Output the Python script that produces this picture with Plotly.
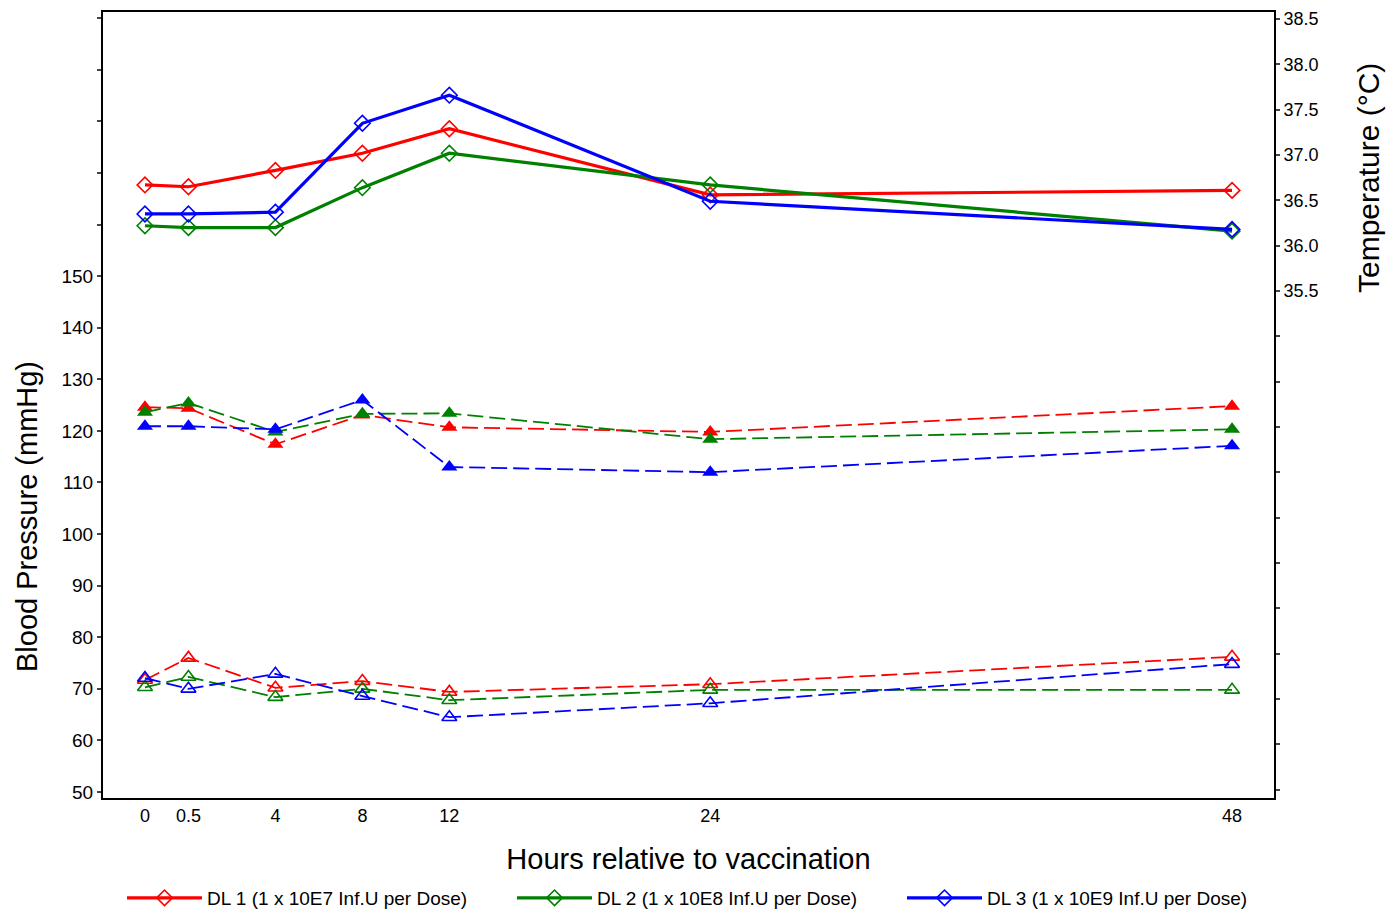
import plotly.graph_objects as go

# Data
hour_labels = ["0", "0.5", "4", "8", "12", "24", "48"]
x_pos = [-2, 0, 4, 8, 12, 24, 48]  # plotted positions of the time points

series_names = ["DL 1 (1 x 10E7 Inf.U per Dose)",
                "DL 2 (1 x 10E8 Inf.U per Dose)",
                "DL 3 (1 x 10E9 Inf.U per Dose)"]
colors = ["#ff0000", "#008000", "#0000ff"]

temp_dl1 = [36.67, 36.65, 36.83, 37.02, 37.29, 36.56, 36.61]
temp_dl2 = [36.22, 36.20, 36.20, 36.64, 37.02, 36.67, 36.16]
temp_dl3 = [36.35, 36.35, 36.37, 37.35, 37.66, 36.49, 36.18]

sys_dl1 = [124.6, 124.4, 117.4, 123.1, 120.7, 119.8, 124.8]
sys_dl2 = [123.6, 125.4, 119.8, 123.3, 123.4, 118.4, 120.3]
sys_dl3 = [120.9, 120.9, 120.3, 126.0, 113.0, 112.0, 117.1]

dia_dl1 = [71.7, 76.0, 70.2, 71.5, 69.4, 70.9, 76.2]
dia_dl2 = [70.3, 72.3, 68.4, 70.0, 67.8, 69.8, 69.8]
dia_dl3 = [72.1, 70.0, 72.9, 68.6, 64.5, 67.2, 74.8]

temps = [temp_dl1, temp_dl2, temp_dl3]
syss = [sys_dl1, sys_dl2, sys_dl3]
dias = [dia_dl1, dia_dl2, dia_dl3]

bp_ticks = list(range(50, 201, 10))
bp_labels = [str(v) if v <= 150 else "" for v in bp_ticks]
t_ticks = [30.0 + 0.5 * i for i in range(18)]
t_labels = [f"{v:.1f}" if v >= 35.5 else "" for v in t_ticks]

FONT = "Liberation Sans, Arial, sans-serif"
W, H = 1387, 903  # page body adds an 8px margin

fig = go.Figure()

for i in range(3):
    fig.add_trace(go.Scatter(
        x=x_pos, y=dias[i], mode="lines+markers", showlegend=False,
        line=dict(color=colors[i], width=1.8, dash="16px,6px"),
        marker=dict(symbol="triangle-up-open", size=13, color=colors[i],
                    line=dict(width=1.6, color=colors[i])),
        yaxis="y"))
for i in range(3):
    fig.add_trace(go.Scatter(
        x=x_pos, y=syss[i], mode="lines+markers", showlegend=False,
        line=dict(color=colors[i], width=1.8, dash="16px,6px"),
        marker=dict(symbol="triangle-up", size=14, color=colors[i]),
        yaxis="y"))
for i in range(3):
    fig.add_trace(go.Scatter(
        x=x_pos, y=temps[i], mode="lines+markers", name=series_names[i],
        line=dict(color=colors[i], width=3.2),
        marker=dict(symbol="diamond-open", size=12, color=colors[i],
                    line=dict(width=1.6, color=colors[i])),
        yaxis="y2"))

fig.update_layout(
    width=W, height=H,
    margin=dict(l=95, r=121, t=4, b=113, autoexpand=False),
    paper_bgcolor="white", plot_bgcolor="white",
    font=dict(family=FONT, color="black", size=19),
    xaxis=dict(
        range=[-3.93, 49.93], tickvals=x_pos, ticktext=hour_labels,
        showgrid=False, zeroline=False, ticks="", ticklen=0, automargin=False,
        showline=True, linecolor="black", linewidth=2, mirror=True,
        tickfont=dict(size=18),
        title=dict(text="Hours relative to vaccination", font=dict(size=29), standoff=24),
    ),
    yaxis=dict(
        range=[48.84, 201.2], tickvals=bp_ticks, ticktext=bp_labels, automargin=False,
        showgrid=False, zeroline=False, ticks="outside", ticklen=4, tickwidth=1.5,
        showline=True, linecolor="black", linewidth=2,
        tickfont=dict(size=19),
    ),
    yaxis2=dict(
        range=[29.91, 38.577], tickvals=t_ticks, ticktext=t_labels,
        overlaying="y", side="right", automargin=False,
        showgrid=False, zeroline=False, ticks="outside", ticklen=4, tickwidth=1.5,
        showline=True, linecolor="black", linewidth=2,
        tickfont=dict(size=18),
    ),
    legend=dict(
        orientation="h", xref="container", yref="container",
        x=114 / W, xanchor="left", y=1 - 871 / H, yanchor="top",
        font=dict(size=19), entrywidth=300, itemwidth=75,
        bgcolor="rgba(0,0,0,0)",
    ),
    annotations=[
        dict(text="Blood Pressure (mmHg)", textangle=-90, showarrow=False,
             xref="paper", yref="paper", x=-0.0649, y=0.3575,
             xanchor="center", yanchor="middle", font=dict(size=29)),
        dict(text="Temperature (°C)", textangle=-90, showarrow=False,
             xref="paper", yref="paper", x=1.0803, y=0.7888,
             xanchor="center", yanchor="middle", font=dict(size=30)),
    ],
)

fig.write_html("out.html")
